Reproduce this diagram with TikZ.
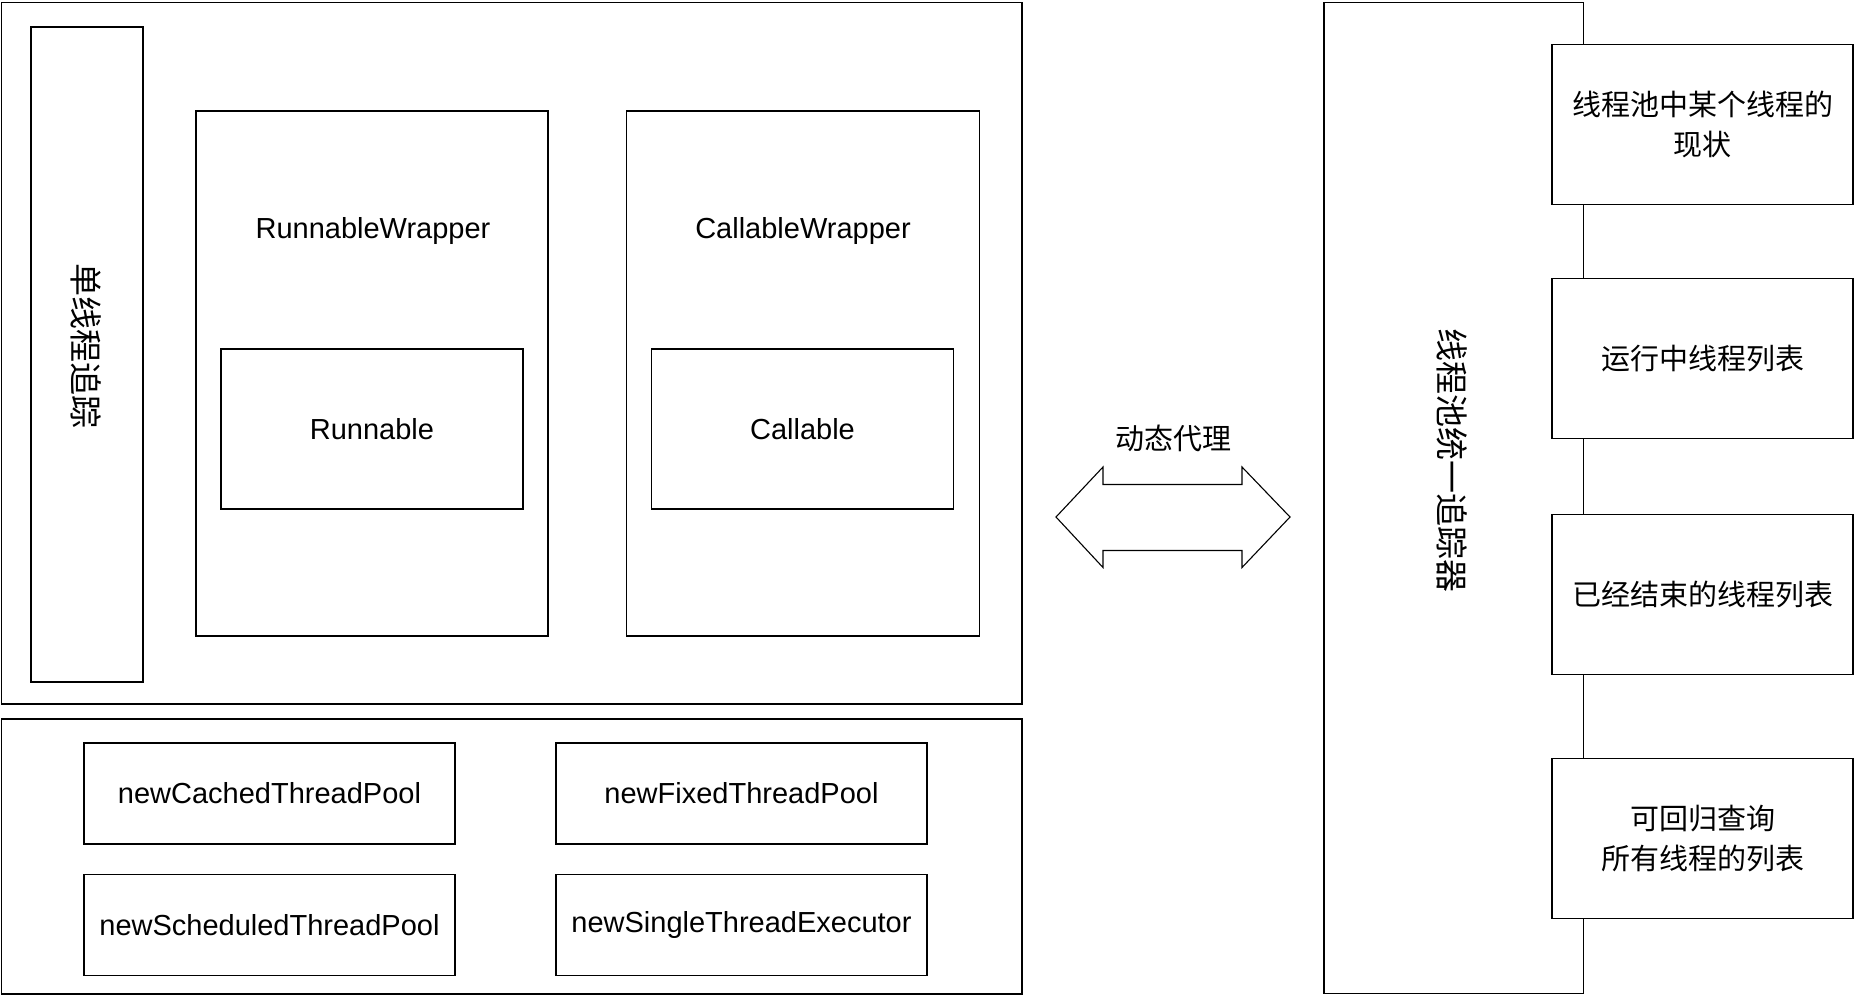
\documentclass[tikz,border=0pt]{standalone}
\usepackage{fontspec}
\setmainfont{Liberation Sans}
\newfontfamily\cjk{Noto Sans CJK SC}
\begin{document}
\begin{tikzpicture}[x=1pt,y=-1pt,
  box/.style={draw, line width=1.5pt, inner sep=0pt, align=center, font=\fontsize{29}{40}\selectfont},
  lbl/.style={inner sep=0pt, align=center, font=\fontsize{29}{40}\selectfont},
  cjklbl/.style={inner sep=0pt, align=center, font=\cjk\fontsize{29}{40}\selectfont},
  vlbl/.style={inner sep=0pt, rotate=-90, font=\cjk\fontsize{33}{40}\selectfont},
  rbox/.style={box, fill=white, minimum width=301pt, minimum height=160pt, font=\cjk\fontsize{29}{40}\selectfont},
  arrowshape/.style={draw, line width=1.1pt, line join=miter}]
\useasboundingbox (0,0) rectangle (1864,996);
% left top container
\node[box, minimum width=1020.5pt, minimum height=701.5pt] (outerA) at (511.75,353.25) {};
\node[box, minimum width=112pt, minimum height=655pt] (single) at (87,354.5) {};
\node[vlbl] (singleT) at (86.5,346) {单线程追踪};
\node[box, minimum width=352pt, minimum height=525pt] (rw) at (372,373.5) {};
\node[lbl] (rwT) at (373,231) {RunnableWrapper};
\node[box, minimum width=302pt, minimum height=160pt] (runnable) at (372,429) {Runnable};
\node[box, minimum width=353pt, minimum height=525pt] (cw) at (803,373.5) {};
\node[lbl] (cwT) at (803,231) {CallableWrapper};
\node[box, minimum width=302pt, minimum height=160pt] (callable) at (802.5,429) {Callable};
% bottom container
\node[box, minimum width=1020.5pt, minimum height=275pt] (outerB) at (511.75,856.5) {};
\node[box, minimum width=371pt, minimum height=101pt] (cached) at (269.5,793.5) {newCachedThreadPool};
\node[box, minimum width=371pt, minimum height=101pt] (fixed) at (741.5,793.5) {newFixedThreadPool};
\node[box, minimum width=371pt, minimum height=101pt] (sched) at (269.5,925) {newScheduledThreadPool};
\node[box, minimum width=371pt, minimum height=101pt] (singleexec) at (741.5,925) {newSingleThreadExecutor};
% middle double arrow
\node[cjklbl] (proxy) at (1173,438) {动态代理};
\draw[arrowshape] (1056,517) -- (1103,467) -- (1103,484.5) -- (1242,484.5) -- (1242,467)
  -- (1290,517) -- (1242,567.5) -- (1242,550.5) -- (1103,550.5) -- (1103,567.5) -- cycle;
% right tracker
\node[box, minimum width=259.5pt, minimum height=991pt] (tracker) at (1453.75,498) {};
\node[vlbl] (trackerT) at (1452.5,460.5) {线程池统一追踪器};
\node[rbox] (r1) at (1702.5,124.5) {线程池中某个线程的\\现状};
\node[rbox] (r2) at (1702.5,358.7) {运行中线程列表};
\node[rbox] (r3) at (1702.5,594.5) {已经结束的线程列表};
\node[rbox] (r4) at (1702.5,838.5) {可回归查询\\所有线程的列表};
\end{tikzpicture}
\end{document}
